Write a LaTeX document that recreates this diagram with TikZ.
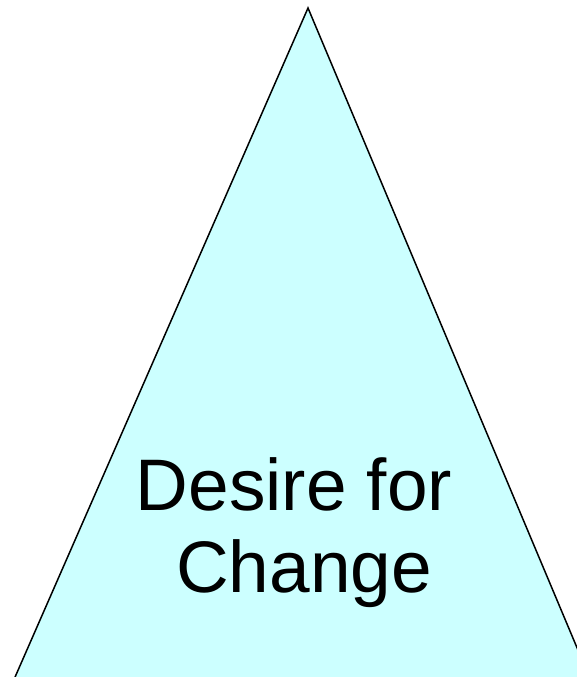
\documentclass[tikz,border=0pt]{standalone}
\usepackage{fontspec}
\setmainfont{Liberation Sans}
\definecolor{paleCyan}{HTML}{CCFFFF}
\begin{document}
\begin{tikzpicture}[
  x=1pt, y=-1pt,
  pyramid/.style={draw=black, line width=1.5pt, fill=paleCyan, line join=miter},
  every node/.style={inner sep=0pt, font=\fontsize{73}{82}\selectfont}
]
  \useasboundingbox (0,0) rectangle (577,677);
  \clip (0,0) rectangle (577,677);
  \coordinate (apex)  at (308, 8);
  \coordinate (left)  at (5, 700);
  \coordinate (right) at (599, 700);
  \draw[pyramid] (apex) -- (right) -- (left) -- cycle;

  \node[anchor=base] (desire) at (294, 510) {Desire for};
  \node[anchor=base] (change) at (304, 592) {Change};
\end{tikzpicture}
\end{document}
